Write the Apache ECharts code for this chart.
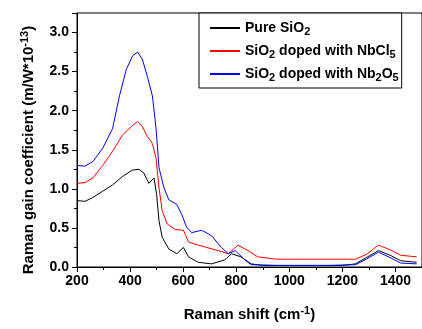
<!DOCTYPE html>
<html>
<head>
<meta charset="utf-8">
<script src="https://cdn.jsdelivr.net/npm/echarts@6/dist/echarts.min.js"></script>
<style>
html, body { margin: 0; padding: 0; background: #fff; }
#chart { width: 422px; height: 329px; }
</style>
</head>
<body>
<div id="chart"></div>
<script>
// Raman shift (cm-1) / gain coefficient
var pureX = [200, 230, 260, 297, 334, 372, 409, 434, 452, 471, 490, 500, 509, 521, 546, 576, 601, 620, 657, 707, 757, 782, 818, 856, 900, 1000, 1100, 1200, 1250, 1290, 1336, 1380, 1420, 1480];
var pureY = [0.85, 0.84, 0.89, 0.97, 1.05, 1.16, 1.24, 1.25, 1.20, 1.07, 1.14, 0.93, 0.59, 0.38, 0.23, 0.17, 0.25, 0.13, 0.06, 0.04, 0.09, 0.17, 0.13, 0.04, 0.02, 0.02, 0.02, 0.02, 0.04, 0.12, 0.21, 0.15, 0.08, 0.06];

var nbclX = [200, 230, 260, 297, 334, 372, 409, 428, 446, 465, 484, 498, 509, 521, 540, 570, 601, 620, 657, 732, 770, 807, 844, 881, 950, 1050, 1150, 1250, 1290, 1336, 1380, 1420, 1480];
var nbclY = [1.07, 1.08, 1.14, 1.30, 1.48, 1.69, 1.81, 1.86, 1.80, 1.67, 1.58, 1.39, 1.01, 0.72, 0.55, 0.48, 0.47, 0.32, 0.28, 0.21, 0.17, 0.28, 0.21, 0.13, 0.10, 0.10, 0.10, 0.10, 0.16, 0.28, 0.22, 0.15, 0.13];

var nb2o5X = [200, 230, 260, 297, 334, 360, 386, 409, 428, 446, 465, 484, 498, 509, 528, 546, 576, 595, 613, 632, 670, 707, 744, 770, 796, 833, 856, 950, 1050, 1150, 1250, 1290, 1336, 1380, 1420, 1480];
var nb2o5Y = [1.30, 1.29, 1.35, 1.52, 1.77, 2.19, 2.53, 2.70, 2.75, 2.66, 2.44, 2.19, 1.77, 1.27, 1.01, 0.86, 0.80, 0.67, 0.51, 0.44, 0.47, 0.40, 0.25, 0.17, 0.21, 0.09, 0.03, 0.02, 0.02, 0.02, 0.03, 0.10, 0.19, 0.12, 0.05, 0.04];

var names = ['Pure SiO2', 'SiO2 doped with NbCl5', 'SiO2 doped with Nb2O5'];
var legendText = {
	'Pure SiO2': 'Pure SiO{s|2}',
	'SiO2 doped with NbCl5': 'SiO{s|2} doped with NbCl{s|5}',
	'SiO2 doped with Nb2O5': 'SiO{s|2} doped with Nb{s|2}O{s|5}'
};

function pairs(xs, ys) {
	var res = [];
	for (var i = 0; i < xs.length; i++) res.push([xs[i], ys[i]]);
	return res;
}

var font = 'Liberation Sans, Arial, sans-serif';
var chart = echarts.init(document.getElementById('chart'));

function lineSeries(name, xs, ys, color) {
	return {
		name: name,
		type: 'line',
		symbol: 'none',
		data: pairs(xs, ys),
		lineStyle: { color: color, width: 1 },
		itemStyle: { color: color },
		animation: false
	};
}

chart.setOption({
	backgroundColor: '#fff',
	grid: {
		left: 77, right: -5, top: 13, bottom: 59,
		show: true, borderColor: '#000', borderWidth: 1
	},
	legend: {
		orient: 'vertical',
		left: 199, top: 13,
		padding: [6, 3, 5, 10],
		itemGap: 5,
		itemWidth: 30,
		itemHeight: 14,
		backgroundColor: '#fff',
		borderColor: '#000',
		borderWidth: 1,
		itemStyle: { opacity: 0 },
		data: names,
		formatter: function (n) { return legendText[n]; },
		textStyle: {
			fontFamily: font, fontWeight: 'bold', fontSize: 14, color: '#000',
			lineHeight: 18,
			rich: {
				s: { fontFamily: font, fontWeight: 'bold', fontSize: 11, lineHeight: 11, padding: [7, 0, 0, 0], color: '#000' }
			}
		}
	},
	xAxis: {
		type: 'value',
		min: 200, max: 1500, interval: 200,
		name: 'Raman shift (cm{t|-1})',
		nameLocation: 'middle',
		nameGap: 40,
		nameTextStyle: {
			fontFamily: font, fontWeight: 'bold', fontSize: 15, color: '#000',
			rich: { t: { fontFamily: font, fontWeight: 'bold', fontSize: 11, lineHeight: 11, padding: [0, 0, 8, 0], color: '#000' } }
		},
		axisLine: { lineStyle: { color: '#000', width: 1 } },
		axisTick: { inside: false, length: 5, lineStyle: { color: '#000' } },
		minorTick: { show: true, splitNumber: 2, length: 3, lineStyle: { color: '#000' } },
		axisLabel: {
			fontFamily: font, fontWeight: 'bold', fontSize: 14, color: '#000', margin: 7,
			formatter: function (v) { return String(v); }
		},
		splitLine: { show: false }
	},
	yAxis: {
		type: 'value',
		min: 0, max: 3.25, interval: 0.5,
		name: 'Raman gain coefficient (m/W*10{t|-13})',
		nameLocation: 'middle',
		nameGap: 41,
		nameTextStyle: {
			fontFamily: font, fontWeight: 'bold', fontSize: 15, color: '#000',
			padding: [0, 20, 0, 0],
			rich: { t: { fontFamily: font, fontWeight: 'bold', fontSize: 11, lineHeight: 11, padding: [0, 0, 8, 0], color: '#000' } }
		},
		axisLine: { show: true, lineStyle: { color: '#000', width: 1 } },
		axisTick: { show: true, inside: false, length: 5, lineStyle: { color: '#000' } },
		minorTick: { show: true, splitNumber: 2, length: 3, lineStyle: { color: '#000' } },
		axisLabel: {
			fontFamily: font, fontWeight: 'bold', fontSize: 14, color: '#000', margin: 8,
			showMaxLabel: false,
			formatter: function (v) { return v.toFixed(1); }
		},
		splitLine: { show: false }
	},
	series: [
		lineSeries(names[0], pureX, pureY, '#000000'),
		lineSeries(names[1], nbclX, nbclY, '#ff0000'),
		lineSeries(names[2], nb2o5X, nb2o5Y, '#0000ff')
	]
});
</script>
</body>
</html>
